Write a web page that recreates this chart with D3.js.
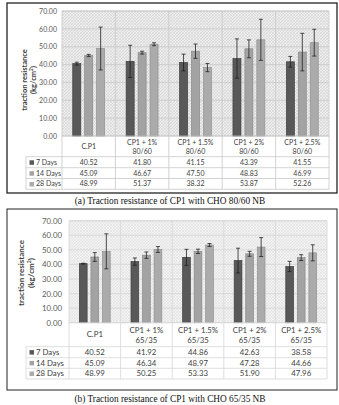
<!DOCTYPE html>
<html><head><meta charset="utf-8">
<script src="https://cdn.jsdelivr.net/npm/d3@7"></script>
<style>
html,body{margin:0;padding:0;background:#fff;}
svg{display:block;}
</style></head>
<body>
<svg id="c" width="339" height="405"></svg>
<script>
// ---------- data ----------
const categoryNames = ["C.P1", "CP1 + 1%", "CP1 + 1.5%", "CP1 + 2%", "CP1 + 2.5%"];
const subLabelsA = ["", "80/60", "80/60", "80/60", "80/60"];
const subLabelsB = ["", "65/35", "65/35", "65/35", "65/35"];
const seriesNames = ["7 Days", "14 Days", "28 Days"];
const yTicks = [0, 10, 20, 30, 40, 50, 60, 70];

const a7  = [40.52, 41.80, 41.15, 43.39, 41.55];
const a14 = [45.09, 46.67, 47.50, 48.83, 46.99];
const a28 = [48.99, 51.37, 38.32, 53.87, 52.26];
const aErr7  = [0.8, 9.0, 4.7, 11.0, 3.0];
const aErr14 = [0.6, 0.8, 4.0, 5.0, 10.5];
const aErr28 = [12.0, 0.8, 2.3, 11.5, 7.5];

const b7  = [40.52, 41.92, 44.86, 42.63, 38.58];
const b14 = [45.09, 46.34, 48.97, 47.28, 44.66];
const b28 = [48.99, 50.25, 53.33, 51.90, 47.96];
const bErr7  = [0.3, 2.5, 5.5, 8.5, 3.5];
const bErr14 = [3.0, 2.2, 1.5, 1.7, 2.0];
const bErr28 = [12.0, 2.0, 1.0, 6.5, 5.5];

const captionA = "(a) Traction resistance of CP1 with CHO 80/60 NB";
const captionB = "(b) Traction resistance of CP1 with CHO 65/35 NB";
const yTitle1 = "traction resistance";
const yTitle2 = "(kg/cm";

const barColors = ["#595959", "#a3a3a3", "#ababab"];
const barStrokes = ["#3f3f3f", "#8a8a8a", "#929292"];
const FONT = "Lato, 'Open Sans', 'Liberation Sans', sans-serif";

const svg = d3.select("#c");

function drawChart(o) {
  const g = svg.append("g");
  const defs = svg.append("defs");
  const pid = "hatch" + o.id;
  const pat = defs.append("pattern").attr("id", pid).attr("patternUnits", "userSpaceOnUse")
    .attr("width", 3).attr("height", 3);
  pat.append("rect").attr("width", 3).attr("height", 3).attr("fill", o.hatchBg);
  pat.append("path").attr("d", "M0,3 L3,0 M-1,1 L1,-1 M2,4 L4,2").attr("stroke", o.hatchLine).attr("stroke-width", 0.6);
  pat.append("path").attr("d", "M0,0 L3,3 M-1,2 L1,4 M2,-1 L4,1").attr("stroke", o.hatchLine).attr("stroke-width", 0.45);

  const series = [o.s7, o.s14, o.s28];
  const errs = [o.e7, o.e14, o.e28];

  const x = d3.scaleBand().domain(categoryNames).range([o.left, o.right]).padding(0);
  const xi = d3.scaleBand().domain(seriesNames).range([0, x.bandwidth()]).paddingInner(0.33).paddingOuter(0.9);
  const y = d3.scaleLinear().domain([0, 70]).range([o.zero, o.top]);

  // outer border
  g.append("rect").attr("x", o.bx0).attr("y", o.by0).attr("width", o.bx1 - o.bx0).attr("height", o.by1 - o.by0)
    .attr("fill", "#fff").attr("stroke", o.borderColor).attr("stroke-width", o.borderW);

  // plot background
  g.append("rect").attr("x", o.left).attr("y", o.top).attr("width", o.right - o.left).attr("height", o.zero - o.top)
    .attr("fill", `url(#${pid})`);

  // gridlines
  g.append("g").selectAll("line").data(yTicks).join("line")
    .attr("x1", o.left).attr("x2", o.right).attr("y1", d => y(d)).attr("y2", d => y(d))
    .attr("stroke", o.gridColor).attr("stroke-width", 0.8);

  // y axis labels
  const yAxis = d3.axisLeft(y).tickValues(yTicks).tickFormat(d3.format(".2f")).tickSize(0).tickPadding(0);
  const ya = g.append("g").attr("transform", `translate(${o.yLabelX},0)`).call(yAxis);
  ya.select(".domain").remove();
  ya.selectAll("text").attr("font-family", FONT).attr("font-size", o.fs).attr("fill", "#595959");

  // y title
  const tt = g.append("text").attr("transform", `translate(${o.titleX},${o.titleY}) rotate(-90)`)
    .attr("text-anchor", "middle").attr("font-family", FONT).attr("font-size", o.fsTitle)
    .attr("font-weight", "bold").attr("fill", "#404040");
  tt.append("tspan").attr("x", 0).attr("dy", 0).text(yTitle1);
  const t2 = tt.append("tspan").attr("x", 0).attr("dy", o.fsTitle * 1.2).text(yTitle2);
  t2.append("tspan").attr("baseline-shift", "super").attr("font-size", o.fsTitle * 0.65).text("2");
  t2.append("tspan").attr("baseline-shift", "0").text(")");

  // bars
  seriesNames.forEach((s, si) => {
    g.append("g").selectAll("rect").data(categoryNames).join("rect")
      .attr("x", c => x(c) + xi(s)).attr("width", xi.bandwidth())
      .attr("y", (c, i) => y(series[si][i])).attr("height", (c, i) => y(0) - y(series[si][i]))
      .attr("fill", barColors[si]).attr("stroke", barStrokes[si]).attr("stroke-width", 0.7);
  });
  // error bars
  seriesNames.forEach((s, si) => {
    const eg = g.append("g").attr("stroke", "#222").attr("stroke-width", 0.8);
    categoryNames.forEach((c, i) => {
      const cx = x(c) + xi(s) + xi.bandwidth() / 2;
      const v = series[si][i], e = errs[si][i];
      const y1 = y(v + e), y2 = y(v - e);
      eg.append("line").attr("x1", cx).attr("x2", cx).attr("y1", y1).attr("y2", y2);
      eg.append("line").attr("x1", cx - 2).attr("x2", cx + 2).attr("y1", y1).attr("y2", y1);
      eg.append("line").attr("x1", cx - 2).attr("x2", cx + 2).attr("y1", y2).attr("y2", y2);
    });
  });

  // table lines
  const tl = g.append("g").attr("stroke", o.tableLine).attr("stroke-width", 0.8);
  const bounds = categoryNames.map(c => x(c)).concat([o.right]);
  bounds.forEach(bx => tl.append("line").attr("x1", bx).attr("x2", bx).attr("y1", o.top).attr("y2", o.rows[3]));
  tl.append("line").attr("x1", o.legX).attr("x2", o.legX).attr("y1", o.rows[0]).attr("y2", o.rows[3]);
  tl.append("line").attr("x1", o.left).attr("x2", o.right).attr("y1", o.zero).attr("y2", o.zero);
  o.rows.forEach(ry => tl.append("line").attr("x1", o.legX).attr("x2", o.right).attr("y1", ry).attr("y2", ry));
  tl.append("line").attr("x1", o.left).attr("x2", o.right).attr("y1", o.top).attr("y2", o.top);

  // category labels
  const catG = g.append("g").attr("font-family", FONT).attr("font-size", o.fs).attr("fill", "#404040").attr("text-anchor", "middle");
  categoryNames.forEach((c, i) => {
    const cx = x(c) + x.bandwidth() / 2;
    const mid = (o.zero + o.rows[0]) / 2;
    if (o.sub[i]) {
      catG.append("text").attr("x", cx).attr("y", mid - 1.5).text(c);
      catG.append("text").attr("x", cx).attr("y", mid + o.fs + 0.5).text(o.sub[i]);
    } else {
      catG.append("text").attr("x", cx).attr("y", mid + o.fs * 0.35).text(c);
    }
  });

  // table rows
  seriesNames.forEach((s, si) => {
    const ry = (o.rows[si] + o.rows[si + 1]) / 2 + o.fs * 0.35;
    g.append("rect").attr("x", o.legX + 3.5).attr("y", ry - o.fs * 0.62).attr("width", 4.5).attr("height", 4.5)
      .attr("fill", barColors[si]);
    g.append("text").attr("x", o.legX + 10).attr("y", ry).attr("font-family", FONT).attr("font-size", o.fs)
      .attr("fill", "#404040").text(s);
    g.append("g").selectAll("text").data(categoryNames).join("text")
      .attr("x", c => x(c) + x.bandwidth() / 2).attr("y", ry).attr("text-anchor", "middle")
      .attr("font-family", FONT).attr("font-size", o.fs).attr("fill", "#404040")
      .text((c, i) => d3.format(".2f")(series[si][i]));
  });

  // caption
  svg.append("text").attr("x", 170).attr("y", o.capY).attr("text-anchor", "middle")
    .attr("font-family", "'Liberation Serif', 'DejaVu Serif', serif").attr("font-size", 9.3).attr("fill", "#111")
    .text(o.caption);
}

drawChart({
  id: "A", s7: a7, s14: a14, s28: a28, e7: aErr7, e14: aErr14, e28: aErr28, sub: subLabelsA,
  bx0: 7, by0: 3, bx1: 337, by1: 193, borderColor: "#111", borderW: 1.2,
  left: 62, right: 329, top: 11, zero: 136, rows: [156.7, 167.7, 178.5, 189.3], legX: 26,
  yLabelX: 57, titleX: 27, titleY: 80, fs: 7, fsTitle: 7.5,
  hatchBg: "#eeeeee", hatchLine: "#cfcfcf", gridColor: "#c8c8c8", tableLine: "#c8c8c8",
  caption: captionA, capY: 204
});
drawChart({
  id: "B", s7: b7, s14: b14, s28: b28, e7: bErr7, e14: bErr14, e28: bErr28, sub: subLabelsB,
  bx0: 7, by0: 209, bx1: 337, by1: 390, borderColor: "#222", borderW: 1,
  left: 69, right: 327, top: 220.7, zero: 322.7, rows: [346.7, 357.7, 368.3, 379], legX: 26,
  yLabelX: 62, titleX: 24, titleY: 273, fs: 7.8, fsTitle: 8,
  hatchBg: "#f3f3f3", hatchLine: "#dedede", gridColor: "#d6d6d6", tableLine: "#d6d6d6",
  caption: captionB, capY: 402
});
</script>
</body></html>
